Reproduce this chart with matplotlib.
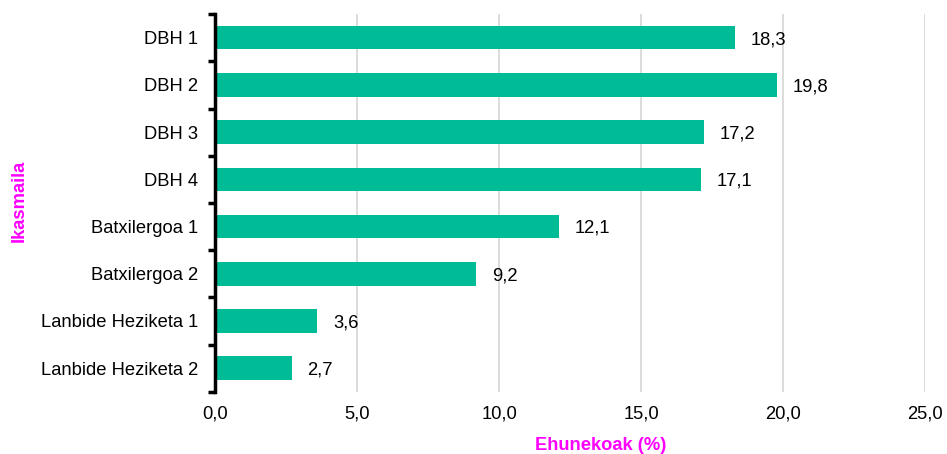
import numpy as np
import matplotlib.pyplot as plt
from matplotlib.ticker import FixedLocator, FuncFormatter

plt.rcParams['font.family'] = ['Liberation Sans', 'DejaVu Sans']

categories = ['DBH 1', 'DBH 2', 'DBH 3', 'DBH 4', 'Batxilergoa 1',
              'Batxilergoa 2', 'Lanbide Heziketa 1', 'Lanbide Heziketa 2']
values = [18.3, 19.8, 17.2, 17.1, 12.1, 9.2, 3.6, 2.7]
xticks = [0, 5, 10, 15, 20, 25]

fs = 13.2
fig = plt.figure(figsize=(9.47, 4.54), dpi=100)
ax = fig.add_axes([0.227, 0.137, 0.750, 0.832])

y = np.arange(len(categories))
ax.barh(y, values, height=0.5, color='#00BC96', zorder=3)
for yi, v in zip(y, values):
    ax.text(v + 0.55, yi + 0.04, f'{v:.1f}'.replace('.', ','), va='center', ha='left',
            fontsize=fs, color='black')

ax.set_ylim(len(categories) - 0.5, -0.5)
ax.set_xlim(0, 25)
ax.set_yticks(y)
ax.set_yticklabels(categories, fontsize=fs)
ax.yaxis.set_minor_locator(FixedLocator(np.arange(-0.5, len(categories), 1)))
ax.tick_params(axis='y', which='major', length=0, pad=12)
ax.tick_params(axis='y', which='minor', length=5, width=2.5, direction='out')

ax.set_xticks(xticks)
ax.xaxis.set_major_formatter(FuncFormatter(lambda v, p: f'{v:.1f}'.replace('.', ',')))
ax.tick_params(axis='x', length=0, labelsize=fs, pad=10)
ax.grid(axis='x', color='#D9D9D9', linewidth=1.3, zorder=0)
ax.xaxis.get_gridlines()[0].set_visible(False)

for s in ['top', 'right', 'bottom']:
    ax.spines[s].set_visible(False)
ax.spines['left'].set_linewidth(2.5)
ax.spines['left'].set_zorder(4)

fig.text(601 / 947, 1 - 445 / 454, 'Ehunekoak (%)', ha='center', va='center',
         fontsize=fs, fontweight='bold', color='#FF00FF')
fig.text(19 / 947, 1 - 201 / 454, 'Ikasmaila', ha='center', va='center',
         rotation=90, fontsize=fs, fontweight='bold', color='#FF00FF')

fig.savefig('out.png', dpi=100)
